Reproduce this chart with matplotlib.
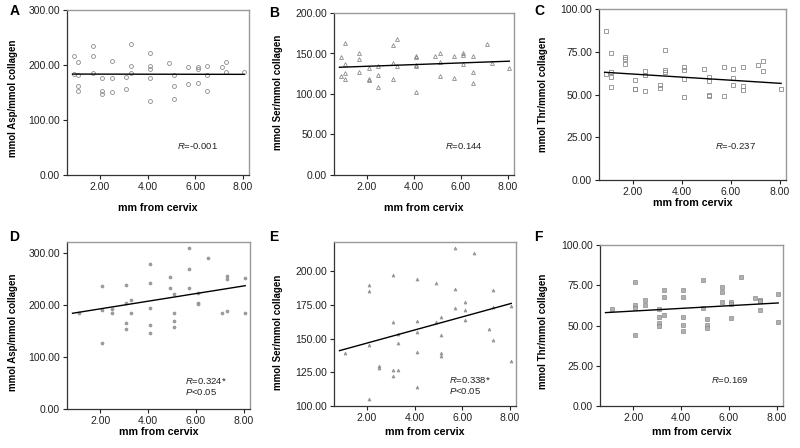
import matplotlib
matplotlib.use("Agg")
import matplotlib.pyplot as plt

plt.rcParams['font.family'] = ['Liberation Sans', 'DejaVu Sans']
plt.rcParams['mathtext.fontset'] = 'custom'
plt.rcParams['mathtext.it'] = 'Liberation Sans:italic'
plt.rcParams['mathtext.rm'] = 'Liberation Sans'

# x positions (mm from cervix) and values
xA = [0.9, 0.9, 1.1, 1.1, 1.1, 1.1, 1.7, 1.7, 1.7, 2.1, 2.1, 2.1, 2.5, 2.5, 2.5, 3.1, 3.1,
      3.3, 3.3, 3.3, 4.1, 4.1, 4.1, 4.1, 4.1, 4.9, 5.1, 5.1, 5.1, 5.7, 5.7, 6.1, 6.1, 6.1,
      6.5, 6.5, 6.5, 7.1, 7.3, 7.3, 8.05]
yA = [217, 184, 205, 181, 162, 152, 234, 217, 185, 176, 153, 148, 208, 176, 151, 178, 157,
      239, 199, 185, 221, 198, 193, 176, 134, 204, 182, 161, 139, 197, 166, 197, 193, 167,
      199, 181, 152, 197, 205, 187, 188]

xB = [0.9, 0.9, 1.1, 1.1, 1.1, 1.1, 1.7, 1.7, 1.7, 2.1, 2.1, 2.1, 2.5, 2.5, 2.5, 3.1, 3.1, 3.1,
      3.3, 3.3, 4.1, 4.1, 4.1, 4.1, 4.1, 4.9, 5.1, 5.1, 5.1, 5.7, 5.7, 6.1, 6.1, 6.1,
      6.5, 6.5, 6.5, 7.1, 7.3, 8.05]
yB = [146, 122, 163, 137, 126, 119, 151, 143, 127, 132, 119, 117, 135, 124, 109, 160, 138, 119,
      168, 134, 147, 146, 136, 134, 103, 147, 150, 140, 122, 147, 120, 150, 148, 137,
      147, 127, 113, 162, 138, 132]

xC = [0.9, 0.9, 1.1, 1.1, 1.1, 1.1, 1.7, 1.7, 1.7, 2.1, 2.1, 2.1, 2.5, 2.5, 2.5, 3.1, 3.1,
      3.3, 3.3, 3.3, 4.1, 4.1, 4.1, 4.1, 4.9, 5.1, 5.1, 5.1, 5.1, 5.7, 5.7, 6.1, 6.1, 6.1,
      6.5, 6.5, 6.5, 7.1, 7.3, 7.3, 8.05]
yC = [87, 62, 74.5, 63, 60, 54.3, 72, 71, 67.6, 58.4, 53.5, 53, 63.5, 61.2, 52, 55.7, 54,
      76, 64.5, 63, 66, 64.3, 58.8, 48.6, 65, 60.2, 58, 50, 49.4, 66.3, 49.4, 65, 59.6, 55.7,
      66, 55, 52.5, 67.3, 69.4, 64, 53]

xD = [1.1, 2.1, 2.1, 2.1, 2.5, 2.5, 3.1, 3.1, 3.1, 3.1, 3.3, 3.3, 4.1, 4.1, 4.1, 4.1, 4.1,
      4.9, 4.9, 5.1, 5.1, 5.1, 5.1, 5.7, 5.7, 5.7, 6.1, 6.1, 6.1, 6.5, 7.1, 7.3, 7.3, 7.3,
      8.05, 8.05]
yD = [185, 237, 190, 126, 192, 185, 239, 204, 165, 153, 210, 185, 279, 243, 195, 161, 146,
      253, 233, 222, 184, 170, 157, 310, 269, 233, 223, 204, 202, 290, 184, 256, 249, 188,
      252, 185]

xE = [1.1, 2.1, 2.1, 2.1, 2.1, 2.5, 2.5, 3.1, 3.1, 3.1, 3.1, 3.3, 3.3, 3.3, 4.1, 4.1, 4.1,
      4.1, 4.1, 4.9, 4.9, 5.1, 5.1, 5.1, 5.1, 5.7, 5.7, 5.7, 6.1, 6.1, 6.1, 6.5, 7.1, 7.3,
      7.3, 7.3, 8.05, 8.05]
yE = [139, 190, 185, 145, 105, 130, 128.5, 197, 162, 127, 122, 153, 147, 127, 194, 163, 155,
      140, 114, 191, 162, 166, 152.5, 139, 137, 217, 187, 172.5, 177, 171, 164, 213, 157, 186,
      173, 149, 174, 133]

xF = [1.1, 2.1, 2.1, 2.1, 2.1, 2.5, 2.5, 3.1, 3.1, 3.1, 3.1, 3.3, 3.3, 3.3, 4.1, 4.1, 4.1,
      4.1, 4.1, 4.9, 4.9, 5.1, 5.1, 5.1, 5.7, 5.7, 5.7, 6.1, 6.1, 6.1, 6.5, 7.1, 7.3, 7.3,
      7.3, 8.05, 8.05]
yF = [60, 77, 62.5, 61, 44, 65.6, 63, 60.5, 55.3, 51.6, 49.5, 71.8, 67.7, 56.5, 71.8, 67.7, 55,
      50.5, 46.6, 78.5, 61, 54.2, 50.3, 48.2, 73.7, 70.6, 64.4, 64.8, 63.1, 54.7, 80.3, 67.3, 66,
      65, 59.4, 69.4, 52.4]

# fitted line ends (x range and fitted value at each end)
fit_x = [0.85, 8.05]
fitA = [183.5, 183]
fitB = [133, 140.5]
fitC = [63, 56.5]
fitD = [184, 237]
fitE = [141, 176]
fitF = [58, 64]

letters = ['A', 'B', 'C', 'D', 'E', 'F']
ylabels = ['mmol Asp/mmol collagen', 'mmol Ser/mmol collagen', 'mmol Thr/mmol collagen',
           'mmol Asp/mmol collagen', 'mmol Ser/mmol collagen', 'mmol Thr/mmol collagen']
stats = ['=-0.001', '=0.144', '=-0.237', '=0.324*', '=0.338*', '=0.169']
xticks = [2, 4, 6, 8]
yticksA = [0, 100, 200, 300]
yticksB = [0, 50, 100, 150, 200]
yticksC = [0, 25, 50, 75, 100]
yticksE = [100, 125, 150, 175, 200]

W, H = 800, 448
fig = plt.figure(figsize=(8, 4.48), dpi=100)


def add_ax(l, t, r, b):
    return fig.add_axes([l / W, 1 - b / H, (r - l) / W, (b - t) / H])


def fx(px):
    return px / W


def fy(py):
    return 1 - py / H


panels = [
    # box(l,t,r,b), x, y, fit, ylim, yticks, marker style, letter pos, ylabel pos, stat pos, xlabel y
    ((67, 10, 249, 175), xA, yA, fitA, (0, 300), yticksA,
     dict(marker='o', ms=2.8, mfc='none', mec='#8a8a8a', mew=0.6), (10, 11), (13, 98), (177, 146), 208),
    ((334, 13, 514, 175), xB, yB, fitB, (0, 200), yticksB,
     dict(marker='^', ms=2.8, mfc='none', mec='#8a8a8a', mew=0.6), (269, 13), (278, 92), (445, 146), 208),
    ((599, 9, 786, 180), xC, yC, fitC, (0, 100), yticksC,
     dict(marker='s', ms=2.6, mfc='none', mec='#8a8a8a', mew=0.6), (534, 11), (543, 94), (715, 146), 203),
    ((67, 242, 250, 409), xD, yD, fitD, (0, 321), yticksA,
     dict(marker='o', ms=2.2, mfc='#a0a0a0', mec='#8a8a8a', mew=0.4), (9, 237), (13, 332), (185, 381), 432),
    ((334, 242, 516, 406), xE, yE, fitE, (100, 221.5), yticksE,
     dict(marker='^', ms=2.2, mfc='#a0a0a0', mec='#8a8a8a', mew=0.4), (269, 237), (278, 332), (449, 380), 432),
    ((600, 245, 783, 406), xF, yF, fitF, (0, 100), yticksC,
     dict(marker='s', ms=2.2, mfc='#b0b0b0', mec='#7a7a7a', mew=0.4), (534, 237), (543, 331), (711, 380), 432),
]

for i, (box, x, y, fit, ylim, yt, mk, lpos, ylpos, spos, xly) in enumerate(panels):
    ax = add_ax(*box)
    ax.plot(x, y, ls='none', **mk)
    ax.plot(fit_x, fit, color='black', lw=1)
    ax.set_xlim(0.62, 8.25)
    ax.set_ylim(*ylim)
    ax.set_xticks(xticks)
    ax.set_xticklabels(['%.2f' % v for v in xticks])
    ax.set_yticks(yt)
    ax.set_yticklabels(['%.2f' % v for v in yt])
    ax.tick_params(direction='out', length=3, width=0.8, labelsize=7.5, pad=2,
                   color='#222222', labelcolor='#222222')
    for s in ['left', 'bottom']:
        ax.spines[s].set_color('#333333')
        ax.spines[s].set_linewidth(0.9)
    for s in ['top', 'right']:
        ax.spines[s].set_color('#999999')
        ax.spines[s].set_linewidth(1.0)

    fig.text(fx(lpos[0]), fy(lpos[1]), letters[i], fontsize=10, fontweight='bold',
             ha='left', va='center')
    fig.text(fx(ylpos[0]), fy(ylpos[1]), ylabels[i], fontsize=7, fontweight='bold',
             rotation=90, ha='center', va='center')
    fig.text(fx((box[0] + box[2]) / 2), fy(xly), 'mm from cervix', fontsize=7.7,
             fontweight='bold', ha='center', va='center')
    fig.text(fx(spos[0]), fy(spos[1]), r'$\mathit{R}$' + stats[i], fontsize=6.8,
             ha='left', va='center', color='#222222')
    if i in (3, 4):
        fig.text(fx(spos[0]), fy(spos[1] + 11), r'$\mathit{P}$' + '<0.05', fontsize=6.8,
                 ha='left', va='center', color='#222222')

fig.savefig('out.png', dpi=100)
